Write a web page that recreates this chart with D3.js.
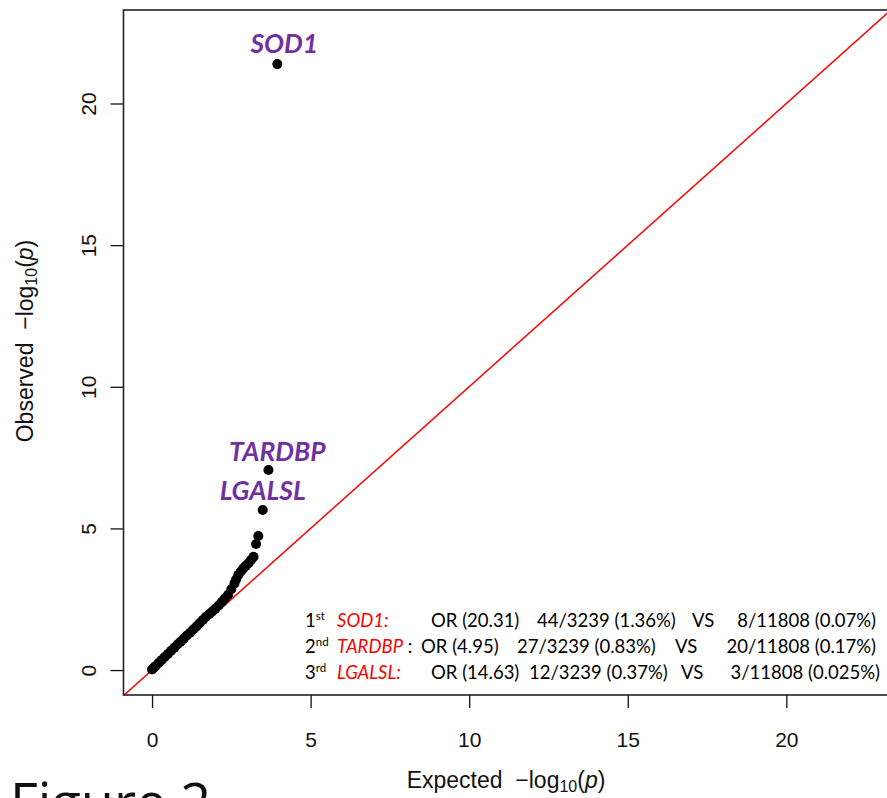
<!DOCTYPE html>
<html>
<head>
<meta charset="utf-8">
<script src="https://cdn.jsdelivr.net/npm/d3@7"></script>
<style>
  html, body { margin: 0; padding: 0; background: #fff; }
  svg { display: block; }
</style>
</head>
<body>
<script>
// ---------------- DATA ----------------
const expected = [0.00, 0.05, 0.10, 0.20, 0.30, 0.40, 0.50, 0.60, 0.70, 0.80, 0.90, 1.00,
  1.10, 1.20, 1.30, 1.40, 1.50, 1.60, 1.70, 1.80, 1.90, 2.00, 2.10, 2.20, 2.30, 2.40,
  2.50, 2.60, 2.65, 2.72, 2.80, 2.88, 2.96, 3.04, 3.12, 3.20, 3.28, 3.35, 3.49, 3.67, 3.95];
const observed = [0.02, 0.07, 0.13, 0.24, 0.35, 0.46, 0.57, 0.68, 0.79, 0.90, 1.00, 1.11,
  1.22, 1.32, 1.43, 1.54, 1.65, 1.77, 1.88, 1.97, 2.07, 2.17, 2.28, 2.40, 2.53, 2.66,
  2.85, 3.06, 3.20, 3.36, 3.48, 3.59, 3.68, 3.77, 3.88, 4.00, 4.45, 4.73, 5.65, 7.06, 21.39];

const xTicks = [0, 5, 10, 15, 20];
const yTicks = [0, 5, 10, 15, 20];

const geneNames = ["SOD1", "TARDBP", "LGALSL"];
const geneExpected = [3.95, 3.67, 3.49];
const geneObserved = [21.39, 7.06, 5.65];

const rankNum = ["1", "2", "3"];
const rankSup = ["st", "nd", "rd"];
const annoGene = ["SOD1:", "TARDBP", "LGALSL:"];
const annoGeneTail = ["", " :", ""];
const annoOR = ["OR (20.31)", "OR (4.95)", "OR (14.63)"];
const annoCases = ["44/3239 (1.36%)", "27/3239 (0.83%)", "12/3239 (0.37%)"];
const annoVS = ["VS", "VS", "VS"];
const annoCtrls = ["8/11808 (0.07%)", "20/11808 (0.17%)", "3/11808 (0.025%)"];

// ---------------- LAYOUT ----------------
const W = 887, H = 798;
const box = { left: 123.5, top: 10, right: 891, bottom: 695 };
const rFont = "'Liberation Sans', Arial, Helvetica, sans-serif";
const cFont = "Lato, Carlito, Calibri, 'Open Sans', sans-serif";

const svg = d3.select("body").append("svg")
  .attr("width", W).attr("height", H)
  .style("background", "#fff");

const x = d3.scaleLinear().domain([-0.9, 23.3]).range([box.left, box.right]);
const y = d3.scaleLinear().domain([-0.88, 23.3]).range([box.bottom, box.top]);

svg.append("defs").append("clipPath").attr("id", "plotclip")
  .append("rect")
  .attr("x", box.left).attr("y", box.top)
  .attr("width", box.right - box.left).attr("height", box.bottom - box.top);

// Axes (R style: outward ticks, labels below / rotated on left)
const xAxis = svg.append("g")
  .attr("transform", `translate(0,${box.bottom})`)
  .call(d3.axisBottom(x).tickValues(xTicks).tickSize(13).tickSizeOuter(0).tickPadding(0)
    .tickFormat(d3.format("d")));
xAxis.select(".domain").remove();
xAxis.selectAll(".tick line").attr("stroke", "#111").attr("stroke-width", 1.3);
xAxis.selectAll(".tick text")
  .attr("y", 52).attr("dy", 0)
  .attr("font-family", rFont).attr("font-size", 21).attr("fill", "#111");

const yAxis = svg.append("g")
  .attr("transform", `translate(${box.left},0)`)
  .call(d3.axisLeft(y).tickValues(yTicks).tickSize(13).tickSizeOuter(0)
    .tickFormat(d3.format("d")));
yAxis.select(".domain").remove();
yAxis.selectAll(".tick line").attr("stroke", "#111").attr("stroke-width", 1.3);
yAxis.selectAll(".tick text")
  .attr("x", 0).attr("dy", 0)
  .attr("transform", "translate(-28,0) rotate(-90)")
  .attr("text-anchor", "middle")
  .attr("font-family", rFont).attr("font-size", 21).attr("fill", "#111");

// Reference line y = x
const hi = Math.min(x.domain()[1], y.domain()[1]) + 2;
svg.append("line")
  .attr("clip-path", "url(#plotclip)")
  .attr("x1", x(y.domain()[0])).attr("y1", y(y.domain()[0]))
  .attr("x2", x(hi)).attr("y2", y(hi))
  .attr("stroke", "#ff0000").attr("stroke-width", 1.5);

// Points
const pts = expected.map((e, i) => ({ e, o: observed[i] }));
svg.append("g").attr("clip-path", "url(#plotclip)")
  .selectAll("circle").data(pts).join("circle")
  .attr("cx", d => x(d.e)).attr("cy", d => y(d.o))
  .attr("r", 5).attr("fill", "#000");

// Plot box
svg.append("rect")
  .attr("x", box.left).attr("y", box.top)
  .attr("width", box.right - box.left).attr("height", box.bottom - box.top)
  .attr("fill", "none").attr("stroke", "#222").attr("stroke-width", 1.6);

// Gene labels
const labelDx = [7, 9, 0];
const labelDy = [-11, -9, -10];
svg.append("g").selectAll("text").data(geneNames).join("text")
  .attr("x", (d, i) => x(geneExpected[i]) + labelDx[i])
  .attr("y", (d, i) => y(geneObserved[i]) + labelDy[i])
  .attr("text-anchor", "middle")
  .attr("font-family", cFont).attr("font-weight", "bold").attr("font-style", "italic")
  .attr("font-size", 26.5).attr("fill", "#7030a0")
  .text(d => d);

// Axis titles
const xt = svg.append("text")
  .attr("x", 506).attr("y", 788).attr("text-anchor", "middle")
  .attr("font-family", rFont).attr("font-size", 23).attr("fill", "#111");
xt.append("tspan").text("Expected\u00a0\u00a0\u2212log");
xt.append("tspan").attr("font-size", 16).attr("dy", 4).text("10");
xt.append("tspan").attr("dy", -4).text("(");
xt.append("tspan").attr("font-style", "italic").text("p");
xt.append("tspan").text(")");

const yt = svg.append("text")
  .attr("transform", "translate(33,341) rotate(-90)")
  .attr("text-anchor", "middle")
  .attr("font-family", rFont).attr("font-size", 23).attr("fill", "#111");
yt.append("tspan").text("Observed\u00a0\u00a0\u2212log");
yt.append("tspan").attr("font-size", 16).attr("dy", 4).text("10");
yt.append("tspan").attr("dy", -4).text("(");
yt.append("tspan").attr("font-style", "italic").text("p");
yt.append("tspan").text(")");

// Annotation block
const rowBase = [627, 653, 679];
const orX = [431, 421, 431];
const caseX = [537, 517, 529];
const vsX = [692, 675, 681];
const ctrlEnd = [876, 876, 880];
const anno = svg.append("g").attr("font-family", cFont).attr("font-size", 18.5).attr("fill", "#000");
rankNum.forEach((r, i) => {
  const t = anno.append("text").attr("x", 305).attr("y", rowBase[i]);
  t.append("tspan").text(r);
  t.append("tspan").attr("font-size", 11.5).attr("dy", -7).text(rankSup[i]);
  const g = anno.append("text").attr("x", 337).attr("y", rowBase[i]);
  g.append("tspan").attr("fill", "#ff0000").attr("font-style", "italic").text(annoGene[i]);
  g.append("tspan").text(annoGeneTail[i]);
  anno.append("text").attr("x", orX[i]).attr("y", rowBase[i]).text(annoOR[i]);
  anno.append("text").attr("x", caseX[i]).attr("y", rowBase[i]).text(annoCases[i]);
  anno.append("text").attr("x", vsX[i]).attr("y", rowBase[i]).text(annoVS[i]);
  anno.append("text").attr("x", ctrlEnd[i]).attr("y", rowBase[i]).attr("text-anchor", "end").text(annoCtrls[i]);
});

// Figure caption (cut off at the bottom edge, as in the reference)
svg.append("text")
  .attr("x", 10).attr("y", 822)
  .attr("font-family", "'Open Sans', 'DejaVu Sans', sans-serif").attr("font-size", 54).attr("fill", "#111")
  .text("Figure 2");
</script>
</body>
</html>
